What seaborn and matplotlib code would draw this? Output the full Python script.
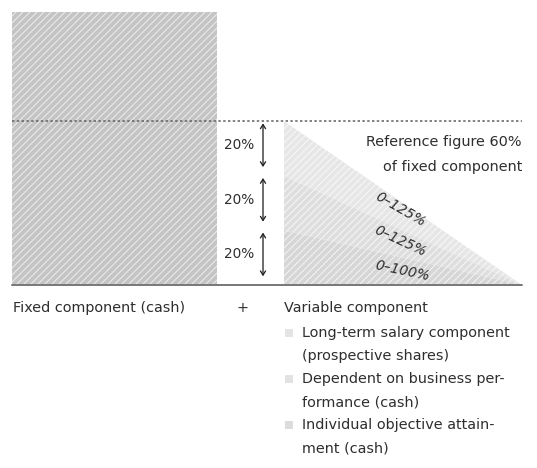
import matplotlib
matplotlib.use("Agg")
import matplotlib.pyplot as plt
from matplotlib.patches import Rectangle
import numpy as np
import pandas as pd
import seaborn as sns

# ---------------- data ----------------
fixed_label = "Fixed component (cash)"
fixed_value = 100
reference_value = 60
variable_title = "Variable component"
# bands from bottom to top
band_names = ["Individual objective attain-\nment (cash)",
              "Dependent on business per-\nformance (cash)",
              "Long-term salary component\n(prospective shares)"]
band_shares = [20, 20, 20]
band_ranges = ["0–100%", "0–125%", "0–125%"]
share_labels = ["20%", "20%", "20%"]
reference_text = "Reference figure 60%\nof fixed component"

# ---------------- style ----------------
sns.set_theme(style="white")
plt.rcParams["font.family"] = ["DejaVu Sans"]
plt.rcParams["hatch.linewidth"] = 0.85

DPI = 84
W, H = 537, 468
PT = 72.0 / DPI           # points per pixel
TXT = "#2e2e2e"
FS = 12.3

band_colors = ["#d6d6d6", "#dedede", "#e6e6e6"]
legend_colors = ["#dcdcdc", "#e2e2e2", "#e3e3e3"]
fixed_color = "#c4c4c4"

# layout (pixels)
BASE_PX = 285.0
PX_PER_UNIT = 2.73
BAR_X0, BAR_X1 = 12, 217
TRI_X0, TRI_X1 = 284, 522
ARROW_X = 263
SHARE_X = 239
LINE_X1 = 522
label_pos = [(402, 5.3, -12), (400, 16.0, -25), (400, 27.6, -30)]


def v(py):
    """pixel y -> data value"""
    return (BASE_PX - py) / PX_PER_UNIT


fig = plt.figure(figsize=(W / DPI, H / DPI), dpi=DPI)
ax = fig.add_axes([0, 0, 1, 1])
ax.set_xlim(0, W)
ax.set_ylim(v(H), v(0))
ax.axis("off")

# fixed component bar
ax.bar(BAR_X0, fixed_value, width=BAR_X1 - BAR_X0, align="edge",
       color=fixed_color, edgecolor=(1, 1, 1, 0.7), linewidth=0,
       hatch="////", zorder=1)

# variable component: fan of bands meeting at the right corner
cum = np.concatenate([[0], np.cumsum(band_shares)])
for i in range(len(band_shares)):
    ax.fill_between([TRI_X0, TRI_X1], [cum[i], 0], [cum[i + 1], 0],
                    facecolor=band_colors[i], edgecolor=(1, 1, 1, 0.75),
                    linewidth=0, hatch="////", zorder=1)

# reference dashed line and baseline
ref_df = pd.DataFrame({"x": [BAR_X0, LINE_X1], "y": [reference_value] * 2})
sns.lineplot(data=ref_df, x="x", y="y", ax=ax, color="#666666",
             linewidth=1.6 * PT, linestyle=(0, (1.5, 1.5)), zorder=3)
base_df = pd.DataFrame({"x": [BAR_X0, LINE_X1], "y": [0, 0]})
sns.lineplot(data=base_df, x="x", y="y", ax=ax, color="#7a7a7a",
             linewidth=2 * PT, zorder=3)

# arrows and share labels
for i in range(len(band_shares)):
    lo = cum[i] + 3.2
    hi = cum[i + 1] - 0.8
    ax.annotate("", xy=(ARROW_X, hi), xytext=(ARROW_X, lo),
                arrowprops=dict(arrowstyle="<->,head_length=0.35,head_width=0.22",
                                color="#222222", lw=1.3 * PT,
                                mutation_scale=10, shrinkA=0, shrinkB=0))
    ax.text(SHARE_X, (lo + hi) / 2, share_labels[i], ha="center", va="center",
            fontsize=FS * 0.95, color=TXT)

# band range labels
for i, (lx, ly, rot) in enumerate(label_pos):
    ax.text(lx, ly, band_ranges[i], ha="center", va="center", rotation=rot,
            rotation_mode="anchor", fontsize=FS * 0.97, style="italic",
            color=TXT, zorder=4)

# reference annotation
ref_lines = reference_text.split("\n")
ax.text(LINE_X1, v(142), ref_lines[0], ha="right", va="center", fontsize=FS, color=TXT)
ax.text(LINE_X1, v(167), ref_lines[1], ha="right", va="center", fontsize=FS, color=TXT)

# bottom labels
ax.text(13, v(308), fixed_label, ha="left", va="center", fontsize=FS, color=TXT)
ax.text(242, v(308), "+", ha="center", va="center", fontsize=FS, color=TXT)
ax.text(TRI_X0, v(308), variable_title, ha="left", va="center", fontsize=FS, color=TXT)

# legend (top to bottom = top band to bottom band)
y_px = 333
sq = 8
for i in reversed(range(len(band_names))):
    ax.add_patch(Rectangle((285, v(y_px + sq / 2)), sq, sq / PX_PER_UNIT,
                           facecolor=legend_colors[i], edgecolor="none"))
    for line in band_names[i].split("\n"):
        ax.text(302, v(y_px), line, ha="left", va="center", fontsize=FS, color=TXT)
        y_px += 23

fig.savefig("out.png", dpi=DPI)
